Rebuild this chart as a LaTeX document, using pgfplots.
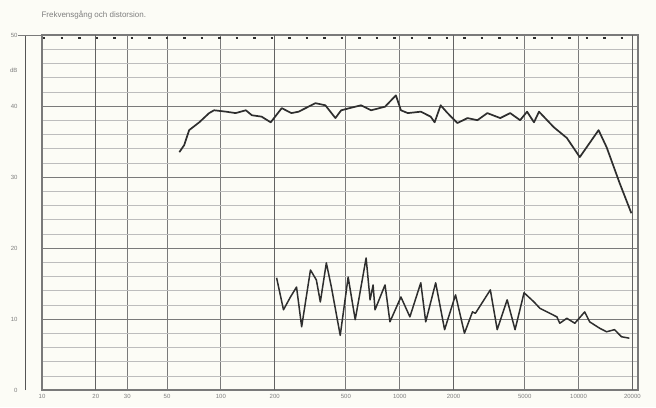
\documentclass[border=0pt]{standalone}
\usepackage{pgfplots}
\pgfplotsset{compat=1.18}
\usepackage{fontspec}
\setmainfont{Liberation Sans}

\definecolor{paper}{HTML}{FCFCF6}
\definecolor{ink}{HTML}{2E2E2E}
\definecolor{gridmaj}{HTML}{7A7A7A}
\definecolor{gridmin}{HTML}{BDBDBD}
\definecolor{lbl}{HTML}{7E7E7E}

\begin{document}
\begin{tikzpicture}
\fill[paper] (-42pt,-17pt) rectangle (614pt,390pt);
\begin{axis}[
    name=ax,
    at={(0,0)}, anchor=south west,
    scale only axis,
    width=596pt,
    height=355pt,
    xmode=log,
    xmin=10, xmax=21500,
    ymin=0, ymax=50,
    axis line style={gridmaj, line width=1.2pt},
    xtick={10,20,30,50,100,200,500,1000,2000,5000,10000,20000},
    xticklabels={10,20,30,50,100,200,500,1000,2000,5000,10000,20000},
    ytick={0,10,20,30,40,50},
    yticklabels={0,10,20,30,40,50},
    minor ytick={2,4,...,48},
    tick style={draw=none},
    tick label style={font=\fontsize{6}{7}\selectfont, text=lbl},
    xticklabel style={yshift=-1pt},
    yticklabel style={xshift=-21pt},
    grid=both,
    major grid style={gridmaj, line width=0.9pt},
    minor grid style={gridmin, line width=0.5pt},
    clip=false,
    ]
% thicker reference lines of the recording paper
\pgfplotsinvokeforeach{20,200,2000,20000}{
  \draw[gridmaj!80!black, line width=1.3pt] (axis cs:#1,0) -- (axis cs:#1,50);
}
\node[anchor=east, font=\fontsize{6}{7}\selectfont, text=lbl] at (rel axis cs:0,0.9) [xshift=-21pt] {dB};

% frequency response
\addplot[ink, line width=1.7pt, line join=round] coordinates {
(58.6,33.5) (62.4,34.5) (66.5,36.6) (75.7,37.7) (86,39.0) (91.7,39.4)
(107,39.2) (121,39.0) (138,39.4) (149,38.7) (169,38.5) (190,37.7)
(219,39.7) (248,39.0) (272,39.2) (338,40.4) (384,40.1) (437,38.3)
(471,39.4) (608,40.1) (692,39.4) (828,39.9) (952,41.5) (1016,39.4)
(1110,39.0) (1312,39.2) (1490,38.5) (1568,37.7) (1694,40.1) (1852,39.0)
(2104,37.6) (2394,38.3) (2719,38.0) (3090,39.0) (3648,38.3) (4147,39.0)
(4713,38.0) (5154,39.2) (5636,37.7) (6010,39.2) (7280,37.0) (8600,35.5)
(10160,32.8) (11540,34.8) (12940,36.6) (14350,34.2) (16940,29.2) (19740,24.9)
};

% distortion
\addplot[ink, line width=1.5pt, line join=round] coordinates {
(205,15.8) (224,11.3) (245,13.1) (265,14.5) (283,8.9) (317,16.9)
(342,15.5) (360,12.4) (389,17.9) (415,14.5) (465,7.7) (515,15.9)
(564,9.9) (649,18.6) (683,12.7) (710,14.8) (728,11.3) (828,14.8)
(882,9.6) (1016,13.1) (1140,10.3) (1312,15.1) (1398,9.6) (1589,15.1)
(1783,8.5) (2052,13.4) (2302,8.0) (2552,11.0) (2650,10.8) (3212,14.1)
(3510,8.5) (3990,12.7) (4416,8.5) (4958,13.7) (5636,12.4) (6086,11.5)
(7568,10.3) (7854,9.4) (8600,10.1) (9530,9.4) (10820,11.0) (11540,9.6)
(13120,8.7) (14350,8.2) (15890,8.5) (17380,7.5) (19240,7.3)
};
\end{axis}
% outer thin border line left of the axis
\draw[gridmaj!70!black, line width=0.9pt] (-17pt,0pt) -- (-17pt,355pt);
\draw[gridmaj, line width=0.9pt] (-24pt,355pt) -- (0pt,355pt);
% timing marks along the top edge
\draw[ink, line width=2.2pt, dash pattern=on 2.5pt off 15pt]
  (1pt,352pt) -- (596pt,352pt);
\node[anchor=west, font=\fontsize{8}{9}\selectfont, text=lbl] at (-4pt,375pt) {Frekvensgång och distorsion.};
\pgfresetboundingbox
\path[use as bounding box] (-42pt,-17pt) rectangle (614pt,390pt);
\end{tikzpicture}
\end{document}
